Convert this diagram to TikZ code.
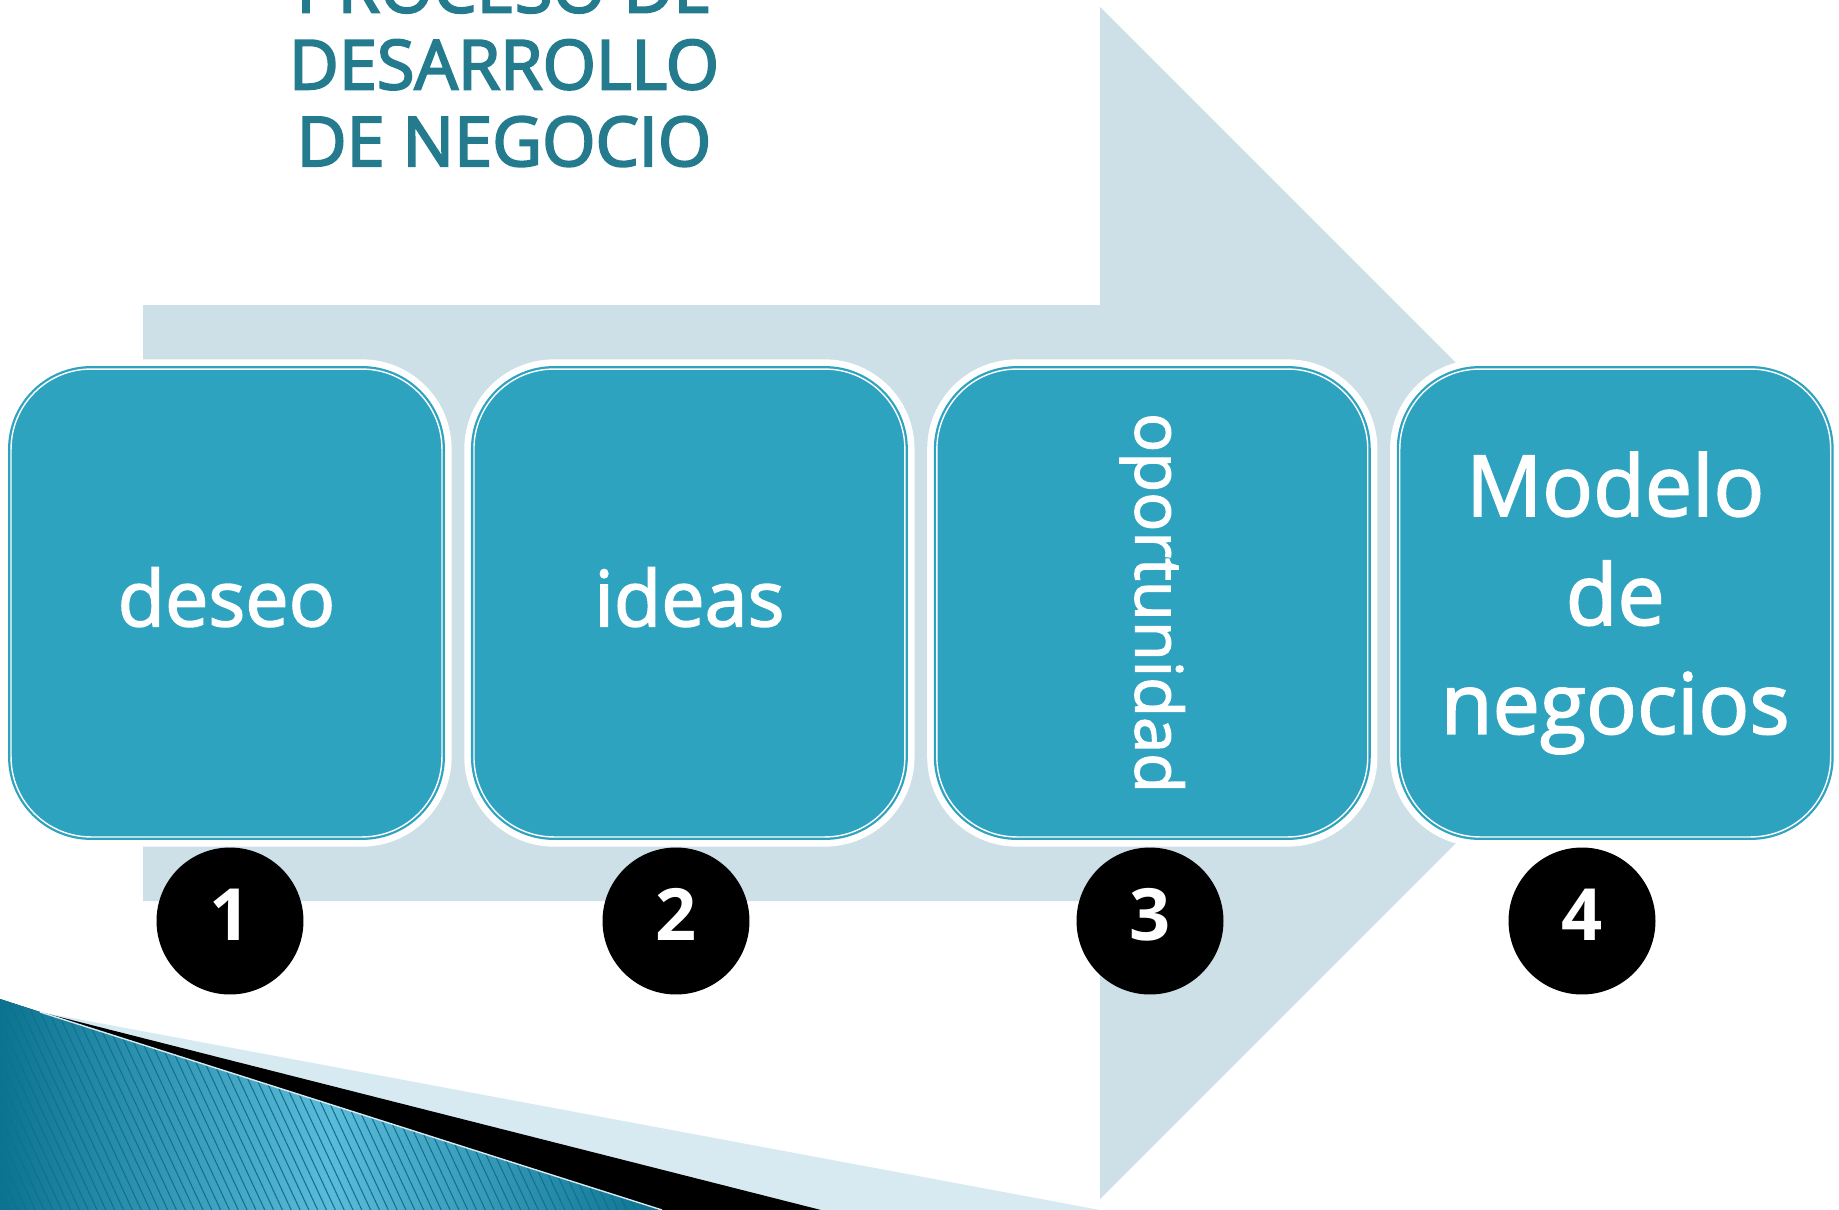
\documentclass[tikz,border=0pt]{standalone}
\usepackage{fontspec}
\setmainfont{Open Sans}
\newfontfamily\semibold{Open Sans}[FakeBold=3]
\newfontfamily\medium{Open Sans}[FakeBold=2]
\usetikzlibrary{patterns.meta}

\definecolor{arrowgrey}{HTML}{CDE0E8}
\definecolor{boxteal}{HTML}{2EA3C0}
\definecolor{titleteal}{HTML}{237B8D}
\definecolor{swlight}{HTML}{D7EAF1}
\definecolor{swdark}{HTML}{0B7390}
\definecolor{swmid}{HTML}{5CBBD9}

\tikzstyle{stage} = [rectangle, rounded corners=1.6cm, minimum width=8.62cm, minimum height=9.36cm, align=center, text=white, fill=boxteal, draw=white, line width=0.8pt, preaction={draw=white, line width=11pt}, preaction={draw=boxteal, line width=3.4pt}]
\tikzstyle{badge} = [circle, fill=black, text=white, minimum size=2.94cm, inner sep=0pt, text depth=7pt, font=\bfseries\fontsize{41}{41}\selectfont]
\tikzstyle{heading} = [align=center, text=titleteal, font=\semibold\fontsize{39}{43.7}\selectfont]

\begin{document}
\begin{tikzpicture}[x=0.02cm, y=-0.02cm, node distance=9.26cm]
\useasboundingbox (0,0) rectangle (1839,1210);

% big arrow behind the boxes
\fill[arrowgrey] (143,305) -- (1100,305) -- (1100,7) -- (1696,603) -- (1100,1199) -- (1100,901) -- (143,901) -- cycle;

\node (title) [heading, anchor=base] at (504,166) {PROCESO DE\\DESARROLLO\\DE NEGOCIO};

\node (deseo) [stage, text depth=7pt, font=\medium\fontsize{44}{53}\selectfont] at (226.5,603) {deseo};
\node (ideas) [stage, right of=deseo, text depth=7pt, font=\medium\fontsize{44}{53}\selectfont] {ideas};
\node (oportunidad) [stage, right of=ideas] {};
\node (oportlabel) [rotate=-90, text=white, font=\medium\fontsize{37}{43}\selectfont] at (oportunidad.center) {oportunidad};
\node (modelo) [stage, right of=oportunidad, font=\medium\fontsize{48}{62}\selectfont] {Modelo\\de\\negocios};

\node (uno) [badge] at (230,921) {1};
\node (dos) [badge] at (676,921) {2};
\node (tres) [badge] at (1150,921) {3};
\node (cuatro) [badge] at (1582,921) {4};

% swoosh in the lower left corner
\fill[swlight] (0,999) -- (40,1012) -- (1100,1210) -- (0,1210) -- cycle;
\fill[black] (0,999) -- (40,1012) -- (821,1210) -- (0,1210) -- cycle;
\shade[left color=swdark, right color=swdark, middle color=swmid] (0,999) -- (40,1012) -- (662,1210) -- (0,1210) -- cycle;
\fill[pattern={Lines[angle=-65, distance=0.16cm, line width=0.6pt]}, pattern color=swdark, fill opacity=0.45] (0,999) -- (40,1012) -- (662,1210) -- (0,1210) -- cycle;
\draw[swlight, line width=0.8pt] (40,1012) -- (662,1210);

\end{tikzpicture}
\end{document}
